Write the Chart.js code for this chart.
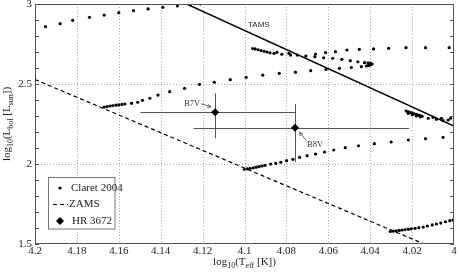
<!DOCTYPE html>
<html><head><meta charset="utf-8">
<script src="https://cdn.jsdelivr.net/npm/chart.js@4"></script>
<style>html,body{margin:0;padding:0;background:#fff;}#wrap{width:458px;height:274px;}</style>
</head><body><div id="wrap"><canvas id="c" width="458" height="274"></canvas></div>
<script>
// ---- tick definitions ----
const xTickVals = [4.0,4.02,4.04,4.06,4.08,4.1,4.12,4.14,4.16,4.18,4.2];
const xTickLabels = ['4','4.02','4.04','4.06','4.08','4.1','4.12','4.14','4.16','4.18','4.2'];
const yTickVals = [1.5,2,2.5,3];
const yTickLabels = ['1.5','2','2.5','3'];

// ---- Claret 2004 tracks (log Teff, log L) ----
const t1Teff = [4.195,4.188,4.182,4.174,4.167,4.160,4.153,4.146,4.139,4.132,4.126,4.121];
const t1Lum  = [2.858,2.877,2.898,2.917,2.931,2.946,2.958,2.969,2.979,2.988,2.996,3.0];

const t2Teff = [4.1670,4.1656,4.1642,4.1628,4.1613,4.1599,4.1585,4.1571,4.1539,4.1510,4.1487,4.1452,4.1413,4.1357,4.1286,4.1215,4.1144,4.1068,4.0992,4.0913,4.0834,4.0757,4.0684,4.0611,4.0547,4.0490,4.0442,
  4.0418,4.0408,4.0399,4.0391,4.0399,4.0410,
  4.0427,4.0459,4.0495,4.0535,4.0579,4.0622,4.0664,4.0707,4.0748,4.0780,4.0822,4.0859,
  4.0878,4.0892,4.0906,4.0921,4.0935,4.0949,4.0961,
  4.0845,4.0788,4.0661,4.0613,4.0566,4.0511,4.0452,4.0384,4.0312,4.0229,4.0136,4.0023];
const t2Lum  = [2.356,2.359,2.3625,2.365,2.3675,2.370,2.3725,2.375,2.379,2.386,2.398,2.411,2.431,2.452,2.473,2.498,2.511,2.527,2.542,2.555,2.567,2.574,2.583,2.592,2.598,2.603,2.608,
  2.6125,2.616,2.619,2.625,2.629,2.6325,
  2.633,2.639,2.646,2.654,2.661,2.664,2.671,2.675,2.681,2.681,2.686,2.692,
  2.695,2.700,2.704,2.709,2.714,2.719,2.722,
  2.698,2.692,2.6875,2.696,2.702,2.7125,2.717,2.719,2.723,2.727,2.727,2.727];

const t3Teff = [4.1001,4.0987,4.0973,4.0958,4.0944,4.0930,4.0916,4.0902,4.0875,4.0851,4.0827,4.0799,4.0769,4.0737,4.0701,4.0661,4.0618,4.0574,4.0519,4.0456,4.0380,4.0300,4.0218,4.0136,4.0052];
const t3Lum  = [1.967,1.970,1.973,1.976,1.980,1.984,1.9875,1.992,2.0,2.004,2.011,2.021,2.029,2.042,2.052,2.0625,2.075,2.0875,2.102,2.114,2.127,2.1375,2.15,2.158,2.167];

const t3hTeff = [4.0228,4.0218,4.0209,4.0199,4.0190,4.0180,4.0171,4.0161,4.0152,4.0218,4.0199,4.0180,4.0161,4.0123,4.0100,4.0084,4.0060,4.0052,4.0028,4.0016];
const t3hLum  = [2.331,2.326,2.322,2.319,2.314,2.311,2.306,2.3025,2.298,2.316,2.3075,2.300,2.294,2.286,2.292,2.279,2.286,2.271,2.275,2.286];

const t4Teff = [4.0304,4.0289,4.0275,4.0261,4.0247,4.0233,4.0218,4.0204,4.0186,4.0168,4.0147,4.0127,4.0104,4.0084,4.0063,4.0041,4.0020,4.0005];
const t4Lum  = [1.578,1.580,1.5825,1.585,1.5875,1.590,1.5925,1.595,1.598,1.602,1.606,1.6125,1.619,1.625,1.631,1.639,1.646,1.65];

// ---- ZAMS / TAMS ----
const zamsTeff = [4.2, 4.0];
const zamsLum  = [2.528, 1.421];
const tamsTeff = [4.1276, 4.0];
const tamsLum  = [3.0, 2.237];

// ---- HR 3672 ----
const hrNames  = ['B7V','B8V'];
const hrTeff   = [4.114, 4.0759];
const hrLum    = [2.323, 2.227];
const hrTeffLo = [4.0756, 4.0215];
const hrTeffHi = [4.1496, 4.1243];
const hrLumLo  = [2.161, 2.0125];
const hrLumHi  = [2.442, 2.375];

const pts = (xs, ys) => xs.map((v, i) => ({x: v, y: ys[i]}));
const SERIF = '"Liberation Serif", "Times New Roman", serif';
const SANS = '"Liberation Sans", Arial, sans-serif';
const dotStyle = {type:'scatter', showLine:false, pointRadius:1.6, pointHoverRadius:1.6, backgroundColor:'#000', borderColor:'#000', borderWidth:0};

function line(ctx, x1, y1, x2, y2){ ctx.beginPath(); ctx.moveTo(x1,y1); ctx.lineTo(x2,y2); ctx.stroke(); }
function arrow(ctx, x1, y1, x2, y2){
  line(ctx, x1, y1, x2, y2);
  const a = Math.atan2(y2-y1, x2-x1), L = 4;
  line(ctx, x2, y2, x2 - L*Math.cos(a-0.45), y2 - L*Math.sin(a-0.45));
  line(ctx, x2, y2, x2 - L*Math.cos(a+0.45), y2 - L*Math.sin(a+0.45));
}
function rich(ctx, parts, cx, base){
  const big = '11px ' + SERIF, small = '8px ' + SERIF;
  let w = 0;
  parts.forEach(p => { ctx.font = p.s ? small : big; w += ctx.measureText(p.t).width; });
  let x = cx - w/2;
  ctx.textAlign = 'left'; ctx.textBaseline = 'alphabetic';
  parts.forEach(p => { ctx.font = p.s ? small : big; ctx.fillText(p.t, x, base + (p.s ? 3 : 0)); x += ctx.measureText(p.t).width; });
}

const deco = {
  id: 'deco',
  beforeDatasetsDraw(chart){
    const {ctx, chartArea:a, scales:{x, y}} = chart;
    ctx.save();
    ctx.strokeStyle = '#a8a8a8'; ctx.lineWidth = 1; ctx.setLineDash([1,2]);
    xTickVals.forEach(v => { const px = Math.round(x.getPixelForValue(v)) + 0.5; if (px > a.left + 2 && px < a.right - 2) line(ctx, px, a.top, px, a.bottom); });
    yTickVals.forEach(v => { const py = Math.round(y.getPixelForValue(v)) + 0.5; if (py > a.top + 2 && py < a.bottom - 2) line(ctx, a.left, py, a.right, py); });
    ctx.setLineDash([]);
    ctx.strokeStyle = '#555';
    hrTeff.forEach((t, i) => {
      const px = Math.round(x.getPixelForValue(t)) + 0.5, py = Math.round(y.getPixelForValue(hrLum[i])) + 0.5;
      line(ctx, x.getPixelForValue(hrTeffLo[i]), py, x.getPixelForValue(hrTeffHi[i]), py);
      line(ctx, px, y.getPixelForValue(hrLumLo[i]), px, y.getPixelForValue(hrLumHi[i]));
    });
    ctx.restore();
  },
  afterDatasetsDraw(chart){
    const {ctx, chartArea:a, scales:{x, y}} = chart;
    ctx.save();
    // box
    ctx.strokeStyle = '#555'; ctx.lineWidth = 1;
    ctx.strokeRect(Math.round(a.left) + 0.5, Math.round(a.top) + 0.5, Math.round(a.right - a.left) - 1, Math.round(a.bottom - a.top) - 1);
    // inward minor ticks on y (every 0.1)
    for (let k = 15; k <= 30; k++) {
      const py = Math.round(y.getPixelForValue(k/10)) + 0.5;
      line(ctx, a.left, py, a.left + 4, py);
      line(ctx, a.right - 4, py, a.right, py);
    }
    // annotations
    ctx.fillStyle = '#222'; ctx.font = '8px ' + SANS; ctx.textAlign = 'left'; ctx.textBaseline = 'middle';
    ctx.fillText('TAMS', 248, 24.5);
    ctx.font = '8.5px ' + SERIF; ctx.fillStyle = '#333'; ctx.strokeStyle = '#666';
    const p0x = x.getPixelForValue(hrTeff[0]), p0y = y.getPixelForValue(hrLum[0]);
    ctx.fillText(hrNames[0], p0x - 31, p0y - 9);
    arrow(ctx, p0x - 14, p0y - 8.5, p0x - 4, p0y - 5.5);
    const p1x = x.getPixelForValue(hrTeff[1]), p1y = y.getPixelForValue(hrLum[1]);
    ctx.fillText(hrNames[1], p1x + 12, p1y + 17);
    arrow(ctx, p1x + 11.5, p1y + 13, p1x + 4.5, p1y + 4.5);
    // legend
    ctx.fillStyle = '#fff'; ctx.strokeStyle = '#777';
    ctx.fillRect(48.5, 177.5, 66.5, 51.5); ctx.strokeRect(48.5, 177.5, 66.5, 51.5);
    ctx.fillStyle = '#000';
    ctx.beginPath(); ctx.arc(60, 188, 1.6, 0, Math.PI*2); ctx.fill();
    ctx.strokeStyle = '#000'; ctx.lineWidth = 1.2; ctx.setLineDash([4,3]);
    line(ctx, 53, 204.5, 68, 204.5); ctx.setLineDash([]);
    ctx.beginPath(); ctx.moveTo(60, 217); ctx.lineTo(64, 221); ctx.lineTo(60, 225); ctx.lineTo(56, 221); ctx.closePath(); ctx.fill();
    ctx.fillStyle = '#222'; ctx.font = '11px ' + SERIF; ctx.textBaseline = 'middle';
    ctx.fillText('Claret 2004', 71, 188.5);
    ctx.fillText('ZAMS', 69, 204.5);
    ctx.fillText('HR 3672', 72, 221.5);
    // axis titles
    ctx.fillStyle = '#222';
    rich(ctx, [{t:'log'},{t:'10',s:1},{t:'(T'},{t:'eff',s:1},{t:' [K])'}], (a.left + a.right)/2, 265);
    ctx.save();
    ctx.translate(9.5, (a.top + a.bottom)/2); ctx.rotate(-Math.PI/2);
    rich(ctx, [{t:'log'},{t:'10',s:1},{t:'(L'},{t:'bol',s:1},{t:' [L'},{t:'sun',s:1},{t:'])'}], 0, 0);
    ctx.restore();
    ctx.restore();
  }
};

const lab = (vals, labels) => v => { const i = vals.findIndex(t => Math.abs(t - v) < 1e-6); return i < 0 ? '' : labels[i]; };

new Chart(document.getElementById('c'), {
  type: 'scatter',
  data: { datasets: [
    {type:'scatter', label:'HR 3672', data: pts(hrTeff, hrLum), pointStyle:'rectRot', pointRadius:4, pointHoverRadius:4, backgroundColor:'#000', borderColor:'#000', borderWidth:0},
    {type:'line', label:'TAMS', data: pts(tamsTeff, tamsLum), borderColor:'#000', borderWidth:1.4, pointRadius:0, fill:false},
    {type:'line', label:'ZAMS', data: pts(zamsTeff, zamsLum), borderColor:'#000', borderWidth:1.2, borderDash:[4,3], pointRadius:0, fill:false},
    {...dotStyle, label:'Claret 2004', data: pts(t1Teff, t1Lum)},
    {...dotStyle, label:'Claret 2004 b', data: pts(t2Teff, t2Lum)},
    {...dotStyle, label:'Claret 2004 c', data: pts(t3Teff, t3Lum)},
    {...dotStyle, label:'Claret 2004 c hook', data: pts(t3hTeff, t3hLum)},
    {...dotStyle, label:'Claret 2004 d', data: pts(t4Teff, t4Lum)}
  ]},
  options: {
    responsive: false, animation: false, devicePixelRatio: 1,
    layout: { padding: {top: 4, right: 2, left: 0, bottom: 0} },
    plugins: { legend: {display: false}, tooltip: {enabled: false} },
    events: [],
    scales: {
      x: { type:'linear', min:4.0, max:4.2, reverse:true,
        afterBuildTicks: s => { s.ticks = xTickVals.map(v => ({value: v})); },
        afterFit: s => { s.height = 30; s.paddingLeft = 0; s.paddingRight = 0; },
        ticks: { callback: lab(xTickVals, xTickLabels), font:{family: SERIF, size: 11}, color:'#222', padding: 1, maxRotation: 0, autoSkip: false },
        grid: { display:false, drawTicks:false }, border: { display:false } },
      y: { type:'linear', min:1.5, max:3,
        afterBuildTicks: s => { s.ticks = yTickVals.map(v => ({value: v})); },
        afterFit: s => { s.width = 35; s.paddingTop = 0; s.paddingBottom = 0; },
        ticks: { callback: lab(yTickVals, yTickLabels), font:{family: SERIF, size: 11}, color:'#222', padding: 3, autoSkip: false },
        grid: { display:false, drawTicks:false }, border: { display:false } }
    }
  },
  plugins: [deco]
});
</script>
</body></html>
